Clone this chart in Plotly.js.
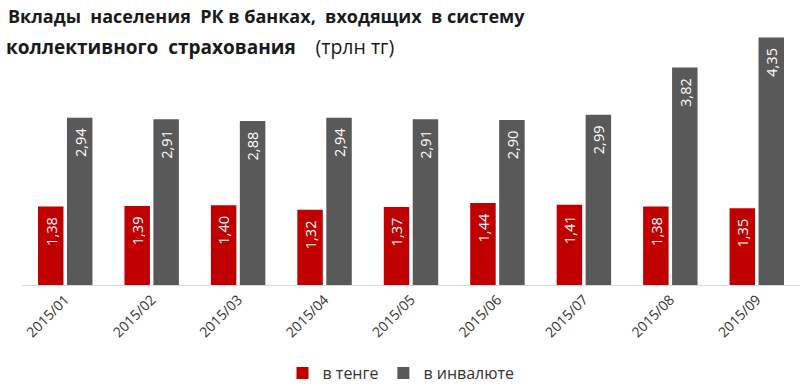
<!DOCTYPE html>
<html><head><meta charset="utf-8">
<script src="https://cdn.plot.ly/plotly-3.0.1.min.js"></script>
<style>html,body{margin:0;padding:0;background:#fff}</style>
</head><body>
<div id="chart" style="width:800px;height:390px"></div>
<script>
const categories = ["2015/01","2015/02","2015/03","2015/04","2015/05","2015/06","2015/07","2015/08","2015/09"];
const tenge = [1.38,1.39,1.40,1.32,1.37,1.44,1.41,1.38,1.35];
const currency = [2.94,2.91,2.88,2.94,2.91,2.90,2.99,3.82,4.35];
const seriesNames = ["в тенге","в инвалюте"];
const titleLine1 = "Вклады\u00a0 населения\u00a0 РК в банках,\u00a0 входящих\u00a0 в систему";
const titleLine2 = "коллективного\u00a0 страхования";
const titleUnit = "(трлн тг)";

const FONT = 'Open Sans, sans-serif';
const common = {
  type:'bar', x:categories,
  textposition:'inside', insidetextanchor:'end', textangle:-90,
  texttemplate:'%{y:.2f}\u00a0\u00a0',
  textfont:{family:FONT, size:15, color:'#ffffff'},
  cliponaxis:false, hoverinfo:'none'
};
const data = [
  Object.assign({}, common, {y:tenge, name:seriesNames[0], marker:{color:'#C00000'}}),
  Object.assign({}, common, {y:currency, name:seriesNames[1], marker:{color:'#595959'}})
];
const layout = {
  width:800, height:390,
  margin:{l:22, r:0, t:30, b:104},
  paper_bgcolor:'#fff', plot_bgcolor:'#fff',
  separators:', ',
  barmode:'group', bargap:0.33, bargroupgap:0.12,
  title:{text:"<b>"+titleLine1+"</b>", x:8/800, xanchor:'left', xref:'container',
    y:1-17/390, yanchor:'middle', yref:'container',
    font:{family:FONT, size:18, color:'#1a1a1a'}},
  annotations:[{xref:'paper', yref:'paper', x:-18/778, xanchor:'left',
    y:(390-47-104)/256, yanchor:'middle', showarrow:false,
    text:"<b>"+titleLine2+"</b>\u00a0\u00a0\u00a0 <span style='font-size:19.5px'>"+titleUnit+"</span>",
    font:{family:FONT, size:19, color:'#1a1a1a'}}],
  xaxis:{type:'category', tickangle:-45, showline:true, linecolor:'#d9d9d9', linewidth:1,
    automargin:false, ticks:'', tickfont:{family:FONT, size:14, color:'#333'}, fixedrange:true},
  yaxis:{range:[0,4.48], visible:false, showgrid:false, zeroline:false, fixedrange:true, automargin:false},
  showlegend:true,
  legend:{orientation:'h', x:(401-22)/778, xanchor:'center', y:-89/256, yanchor:'middle',
    font:{family:FONT, size:16, color:'#333'}, itemwidth:30, traceorder:'normal'}
};
Plotly.newPlot('chart', data, layout, {displayModeBar:false, staticPlot:true});
</script>
</body></html>
